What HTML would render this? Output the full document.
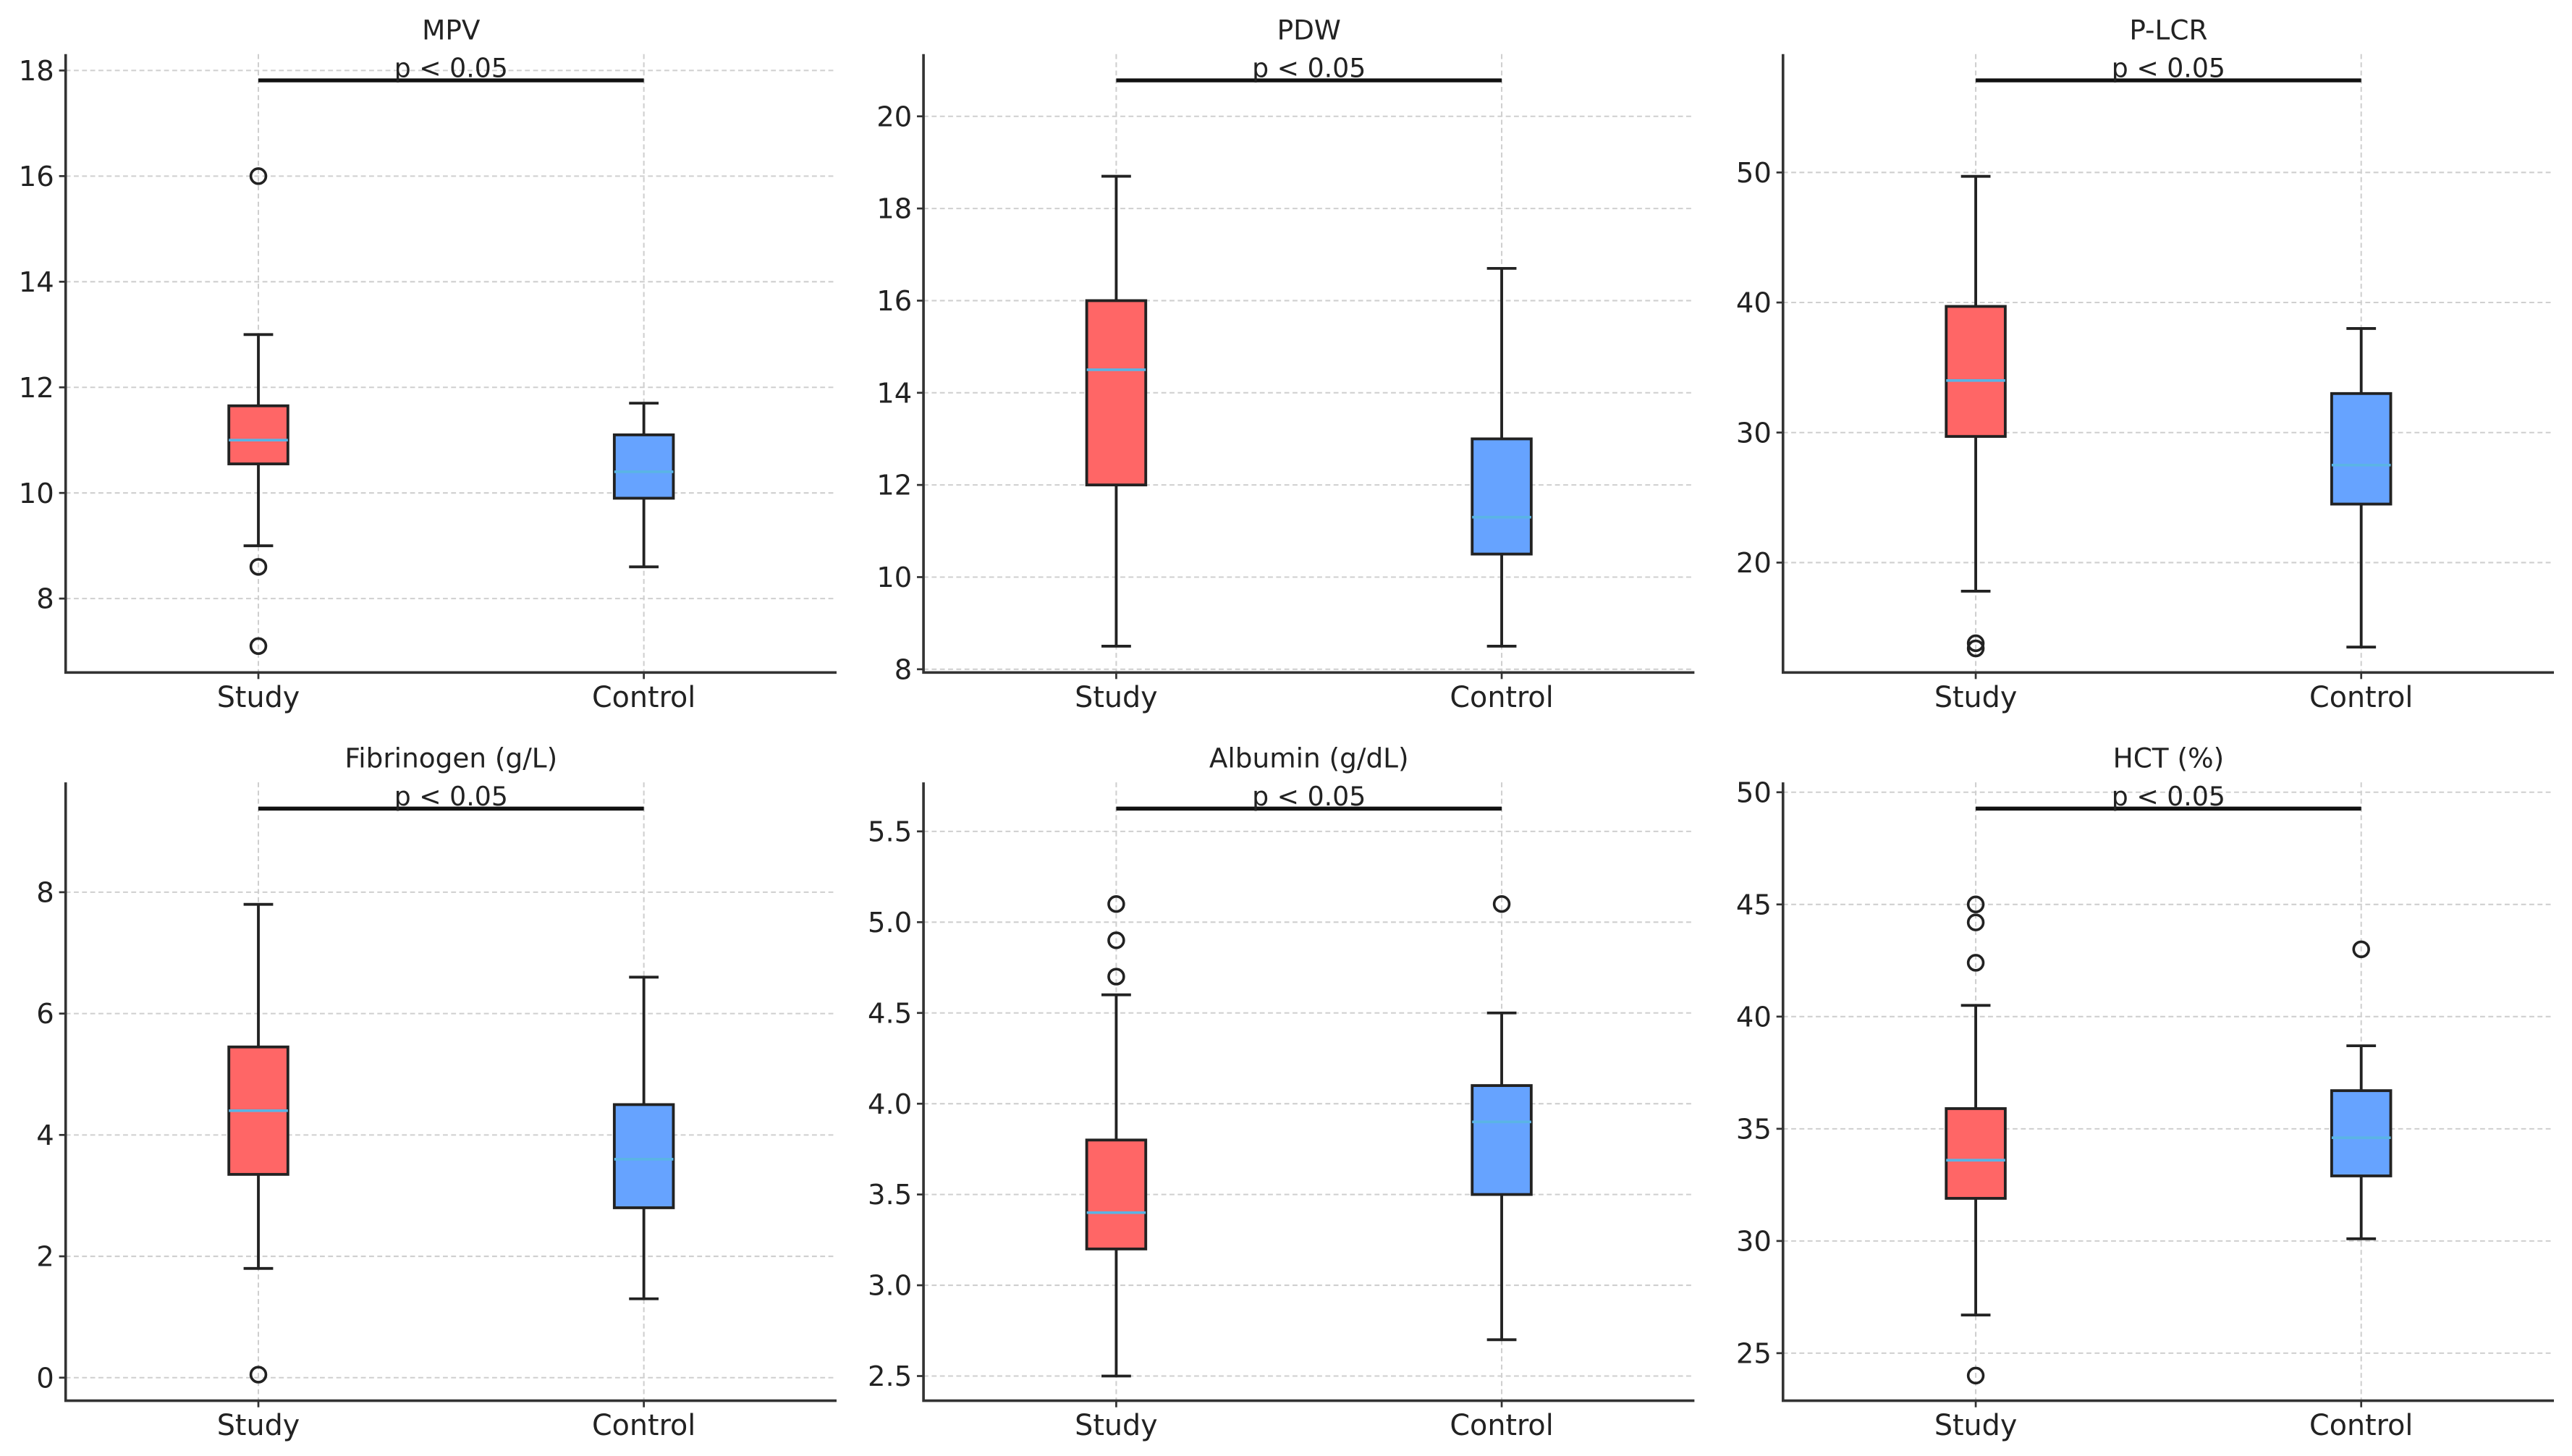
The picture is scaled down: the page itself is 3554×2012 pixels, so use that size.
<!DOCTYPE html>
<html><head><meta charset="utf-8"><style>
html,body{margin:0;padding:0;background:#fff}
svg{display:block}
text{font-family:"DejaVu Sans","Liberation Sans",sans-serif;fill:#222}
</style></head><body>
<svg id="fig" width="3554" height="2012" viewBox="0 0 1568 887.7" xmlns="http://www.w3.org/2000/svg"></svg>
<script>
const panelTitles=["MPV","PDW","P-LCR","Fibrinogen (g/L)","Albumin (g/dL)","HCT (%)"];
const groupLabels=["Study","Control"];
const yMin=[6.6,7.93,11.55,-0.38,2.364,22.88];
const yMax=[18.31,21.35,59.1,9.81,5.77,50.44];
const yTicks=[[8,10,12,14,16,18],[8,10,12,14,16,18,20],[20,30,40,50],[0,2,4,6,8],[2.5,3.0,3.5,4.0,4.5,5.0,5.5],[25,30,35,40,45,50]];
const tickDecimals=[0,0,0,0,1,0];
// [whiskerLow, q1, median, q3, whiskerHigh]
const studyStats=[[9.0,10.55,11.0,11.65,13.0],[8.5,12,14.5,16,18.7],[17.8,29.7,34,39.7,49.7],[1.8,3.35,4.4,5.45,7.8],[2.5,3.2,3.4,3.8,4.6],[26.7,31.9,33.6,35.9,40.5]];
const controlStats=[[8.6,9.9,10.4,11.1,11.7],[8.5,10.5,11.3,13,16.7],[13.5,24.5,27.5,33,38],[1.3,2.8,3.6,4.5,6.6],[2.7,3.5,3.9,4.1,4.5],[30.1,32.9,34.6,36.7,38.7]];
const studyOutliers=[[16,8.6,7.1],[],[13.8,13.4],[0.05],[5.1,4.9,4.7],[45,44.2,42.4,24]];
const controlOutliers=[[],[],[],[],[5.1],[43]];
const pText="p < 0.05";

const NS="http://www.w3.org/2000/svg";
const svg=document.getElementById('fig');
function mk(tag,attrs,parent){const e=document.createElementNS(NS,tag);for(const k in attrs)e.setAttribute(k,attrs[k]);(parent||svg).appendChild(e);return e;}
const colL=[40,563,1087], rowT=[33,477], W=470, H=377;
const fills=["#ff6666","#66a3ff"];
const SW=1.7;
for(let p=0;p<6;p++){
  const L=colL[p%3], T=rowT[Math.floor(p/3)], B=T+H, R=L+W;
  const g=mk('g',{});
  
  
  const ys=v=>B-(v-yMin[p])/(yMax[p]-yMin[p])*H;
  const xs=i=>L+W*(0.25+0.5*i);
  yTicks[p].forEach(t=>{
    const y=ys(t);
    const gl=mk('line',{x1:L,x2:R,y1:y,y2:y,stroke:'#cfcfcf','stroke-width':0.9,'stroke-dasharray':'3 2'},g);
    
    
    mk('line',{x1:L-4,x2:L,y1:y,y2:y,stroke:'#333','stroke-width':1.2},g);
    const tl=mk('text',{x:L-7,y:y+6,'text-anchor':'end','font-size':17},g);
    tl.textContent=t.toFixed(tickDecimals[p]);
    
    
  });
  [0,1].forEach(i=>{
    const x=xs(i);
    const gl=mk('line',{x1:x,x2:x,y1:T,y2:B,stroke:'#cfcfcf','stroke-width':0.9,'stroke-dasharray':'3 2'},g);
    
    
    mk('line',{x1:x,x2:x,y1:B,y2:B+4,stroke:'#333','stroke-width':1.2},g);
    const xl=mk('text',{x:x,y:B+21,'text-anchor':'middle','font-size':17.5},g);
    xl.textContent=groupLabels[i];
    
    
  });
  const sp=mk('path',{d:`M${L},${T} V${B} H${R}`,fill:'none',stroke:'#333','stroke-width':1.6},g);
  
  
  [studyStats[p],controlStats[p]].forEach((s,i)=>{
    const x=xs(i), bw=36, cw=18;
    const bg=mk('g',{},g);
    
    
    mk('line',{x1:x,x2:x,y1:ys(s[0]),y2:ys(s[1]),stroke:'#222','stroke-width':SW},bg);
    mk('line',{x1:x,x2:x,y1:ys(s[3]),y2:ys(s[4]),stroke:'#222','stroke-width':SW},bg);
    mk('line',{x1:x-cw/2,x2:x+cw/2,y1:ys(s[0]),y2:ys(s[0]),stroke:'#222','stroke-width':SW},bg);
    mk('line',{x1:x-cw/2,x2:x+cw/2,y1:ys(s[4]),y2:ys(s[4]),stroke:'#222','stroke-width':SW},bg);
    mk('rect',{x:x-bw/2,y:ys(s[3]),width:bw,height:ys(s[1])-ys(s[3]),fill:fills[i],stroke:'#222','stroke-width':SW},bg);
    mk('line',{x1:x-bw/2,x2:x+bw/2,y1:ys(s[2]),y2:ys(s[2]),stroke:'#5ab4e5','stroke-width':1.6},bg);
  });
  [studyOutliers[p],controlOutliers[p]].forEach((arr,i)=>{
    arr.forEach(v=>{
      const c=mk('circle',{cx:xs(i),cy:ys(v),r:4.6,fill:'none',stroke:'#222','stroke-width':1.6},g);
      
      
    });
  });
  const sl=mk('line',{x1:xs(0),x2:xs(1),y1:T+16,y2:T+16,stroke:'#111','stroke-width':2.4},g);
  
  
  const pt=mk('text',{x:(xs(0)+xs(1))/2,y:T+14,'text-anchor':'middle','font-size':16},g);
  pt.textContent=pText;
  
  
  const tt=mk('text',{x:L+W/2,y:T-9,'text-anchor':'middle','font-size':16.5},g);
  tt.textContent=panelTitles[p];
  
  
}
</script>
</body></html>
